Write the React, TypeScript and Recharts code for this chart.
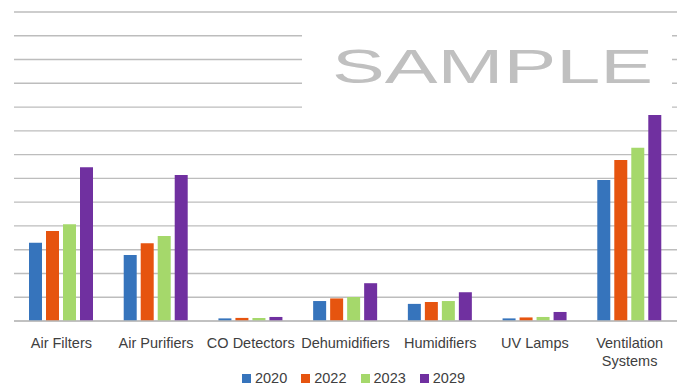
import React from "react";
import { BarChart, Bar, XAxis, YAxis, CartesianGrid, Legend } from "recharts";

const categories = [
  "Air Filters",
  "Air Purifiers",
  "CO Detectors",
  "Dehumidifiers",
  "Humidifiers",
  "UV Lamps",
  "Ventilation Systems",
];
const s2020 = [3.29, 2.78, 0.11, 0.84, 0.72, 0.11, 5.93];
const s2022 = [3.79, 3.27, 0.13, 0.95, 0.8, 0.15, 6.77];
const s2023 = [4.07, 3.58, 0.13, 1.01, 0.84, 0.17, 7.29];
const s2029 = [6.47, 6.14, 0.17, 1.59, 1.21, 0.38, 8.67];
const yTicks = [0, 1, 2, 3, 4, 5, 6, 7, 8, 9, 10, 11, 12, 13];

const seriesNames = ["2020", "2022", "2023", "2029"];
const colors = ["#3674BC", "#E6540F", "#A5D86B", "#7030A0"];

const data = categories.map((c, i) => ({
  name: c,
  "2020": s2020[i],
  "2022": s2022[i],
  "2023": s2023[i],
  "2029": s2029[i],
}));

const FONT = "'Liberation Sans', Arial, sans-serif";

const Tick = (props: any) => {
  const { x, y, payload } = props;
  const label: string = payload.value;
  const lines = label.length > 15 ? label.split(" ") : [label];
  return (
    <text x={x} y={y} textAnchor="middle" fill="#404040" fontSize={14.5} fontFamily={FONT}>
      {lines.map((l, i) => (
        <tspan key={i} x={x} dy={i === 0 ? 18.5 : 18}>
          {l}
        </tspan>
      ))}
    </text>
  );
};

const LegendContent = () => (
  <div
    style={{
      display: "flex",
      justifyContent: "center",
      alignItems: "center",
      paddingLeft: 16,
      marginTop: 4,
      fontFamily: FONT,
      fontSize: 14.5,
      color: "#404040",
    }}
  >
    {seriesNames.map((n, i) => (
      <div key={n} style={{ display: "flex", alignItems: "center", marginRight: i < 3 ? 14 : 0 }}>
        <div style={{ width: 9, height: 9, background: colors[i], marginRight: 4 }} />
        <span>{n}</span>
      </div>
    ))}
  </div>
);

export default function App() {
  return (
    <div style={{ position: "absolute", left: 0, top: 0, width: 681, height: 386, background: "#fff" }}>
      <BarChart
        width={681}
        height={386}
        data={data}
        margin={{ top: 12, right: 4, left: 14, bottom: 0 }}
        barGap={4}
        barSize={13}
      >
        <CartesianGrid vertical={false} stroke="#BDBDBD" strokeWidth={1.4} />
        <XAxis
          dataKey="name"
          tickLine={false}
          axisLine={{ stroke: "#BDBDBD", strokeWidth: 1.4 }}
          tick={<Tick />}
          interval={0}
          height={45}
        />
        <YAxis hide domain={[0, 13]} ticks={yTicks} />
        <Legend verticalAlign="bottom" height={20} content={<LegendContent />} />
        {seriesNames.map((n, i) => (
          <Bar key={n} dataKey={n} fill={colors[i]} isAnimationActive={false} />
        ))}
      </BarChart>
      <div
        style={{
          position: "absolute",
          left: 302,
          top: 19,
          width: 370,
          height: 93,
          background: "#fff",
        }}
      >
        <svg width={370} height={93}>
          <text
            x={30}
            y={64}
            fill="#C0C0C0"
            fontSize={48}
            fontFamily={FONT}
            textLength={321}
            lengthAdjust="spacingAndGlyphs"
          >
            SAMPLE
          </text>
        </svg>
      </div>
    </div>
  );
}
